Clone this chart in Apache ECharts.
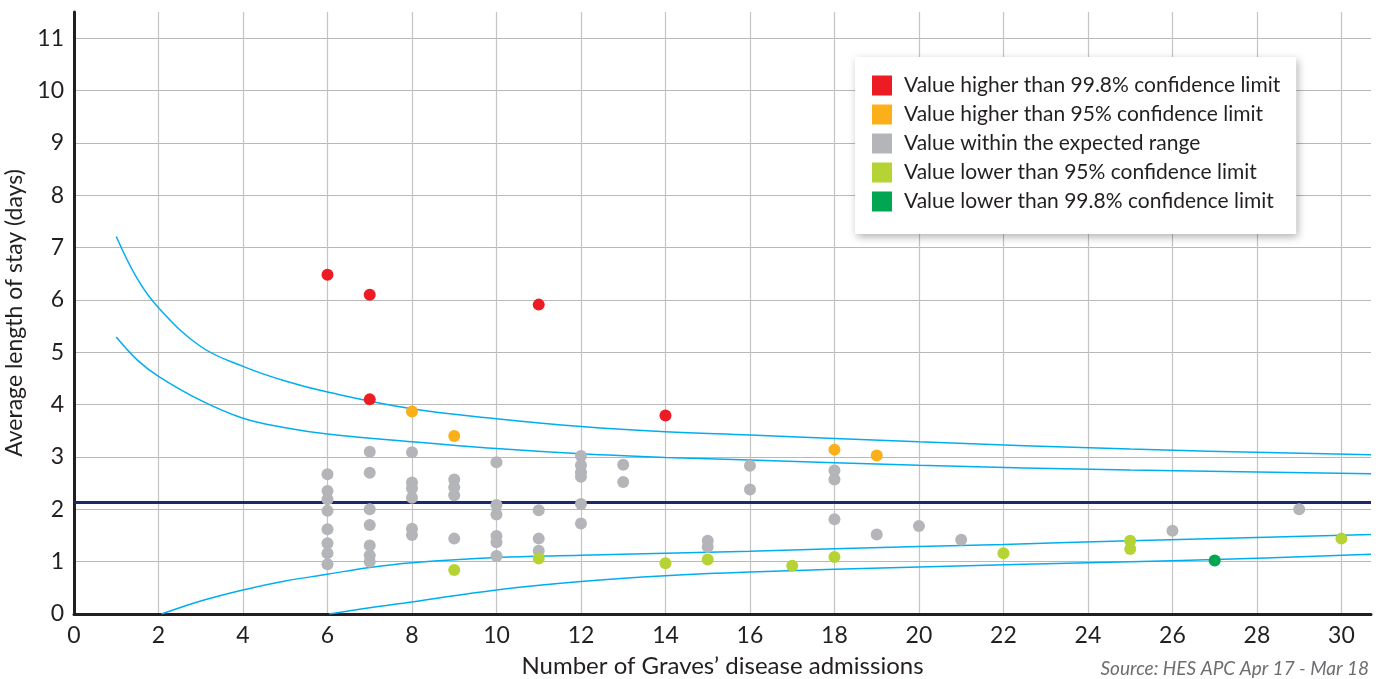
<!DOCTYPE html>
<html>
<head>
<meta charset="utf-8">
<script src="https://cdn.jsdelivr.net/npm/echarts@6/dist/echarts.min.js"></script>
<style>
  html, body { margin: 0; padding: 0; background: #ffffff; }
  #chart { width: 1387px; height: 679px; }
</style>
</head>
<body>
<div id="chart"></div>
<script>
// points: [admissions, average length of stay]
var redPoints = [[6, 6.48], [7, 6.10], [7, 4.10], [11, 5.91], [14, 3.79]];
var orangePoints = [[8, 3.87], [9, 3.40], [18, 3.14], [19, 3.03]];
var grayPoints = [
    [6, 2.67], [6, 2.35], [6, 2.19], [6, 1.97], [6, 1.62], [6, 1.35], [6, 1.16], [6, 0.95],
    [7, 3.10], [7, 2.70], [7, 2.00], [7, 1.70], [7, 1.31], [7, 1.12], [7, 1.00],
    [8, 3.09], [8, 2.51], [8, 2.40], [8, 2.22], [8, 1.63], [8, 1.51],
    [9, 2.57], [9, 2.42], [9, 2.27], [9, 1.44],
    [10, 2.90], [10, 2.08], [10, 1.90], [10, 1.49], [10, 1.37], [10, 1.11],
    [11, 1.98], [11, 1.44], [11, 1.21],
    [12, 3.02], [12, 2.84], [12, 2.71], [12, 2.62], [12, 2.10], [12, 1.73],
    [13, 2.85], [13, 2.52],
    [15, 1.40], [15, 1.28],
    [16, 2.83], [16, 2.38],
    [18, 2.74], [18, 2.57], [18, 1.81],
    [19, 1.52], [20, 1.68], [21, 1.42], [26, 1.59], [29, 2.00]
];
var limePoints = [[9, 0.84], [11, 1.06], [14, 0.97], [15, 1.04], [17, 0.92], [18, 1.09],
    [22, 1.16], [25, 1.40], [25, 1.24], [30, 1.44]];
var greenPoints = [[27, 1.02]];

// control limits
var upper998 = [[1, 7.21], [1.5, 6.40], [2, 5.85], [3, 5.11], [4, 4.73], [5, 4.45], [6, 4.24],
    [8, 3.92], [10, 3.73], [12, 3.58], [14, 3.48], [16, 3.42], [20, 3.29], [25, 3.15], [30.7, 3.04]];
var upper95 = [[1, 5.29], [1.5, 4.85], [2, 4.54], [3, 4.08], [4, 3.74], [5, 3.56], [6, 3.44],
    [8, 3.29], [10, 3.16], [12, 3.06], [14, 2.99], [16, 2.94], [20, 2.84], [25, 2.75], [30.7, 2.68]];
var lower95 = [[2.07, 0], [3, 0.25], [4, 0.46], [5, 0.63], [6, 0.76], [7, 0.89], [8, 0.98],
    [10, 1.08], [12, 1.12], [14, 1.16], [16, 1.20], [20, 1.29], [22, 1.33], [25, 1.40], [30.7, 1.52]];
var lower998 = [[6.04, 0], [7, 0.12], [8, 0.23], [10, 0.46], [12, 0.62], [14, 0.73], [16, 0.80],
    [20, 0.90], [25, 1.00], [27, 1.04], [30.7, 1.14]];
var meanValue = 2.13;

var legendNames = [
    'Value higher than 99.8% confidence limit',
    'Value higher than 95% confidence limit',
    'Value within the expected range',
    'Value lower than 95% confidence limit',
    'Value lower than 99.8% confidence limit'
];

var chart = echarts.init(document.getElementById('chart'));
var font = 'Lato, "DejaVu Sans", sans-serif';
var lineColor = '#00aeef';

function limitLine(data) {
    return {
        type: 'line',
        data: data,
        smooth: 0.4,
        symbol: 'none',
        lineStyle: { color: lineColor, width: 1.5 },
        z: 3,
        silent: true
    };
}

function dots(name, data, color) {
    return {
        name: name,
        type: 'scatter',
        data: data,
        symbolSize: 12,
        itemStyle: { color: color, opacity: 1 },
        z: 5
    };
}

var option = {
    backgroundColor: '#ffffff',
    textStyle: { fontFamily: font },
    animation: false,
    grid: { left: 74, right: 16, top: 12, bottom: 65, containLabel: false, outerBoundsMode: 'none' },
    legend: {
        orient: 'vertical',
        left: 855,
        top: 57,
        data: legendNames,
        icon: 'rect',
        itemWidth: 20,
        itemHeight: 20,
        itemGap: 8,
        padding: [18, 16, 22, 17],
        backgroundColor: '#ffffff',
        shadowBlur: 8,
        shadowColor: 'rgba(0,0,0,0.3)',
        shadowOffsetX: 2,
        shadowOffsetY: 3,
        textStyle: { fontSize: 21, color: '#231f20', fontFamily: font, padding: [0, 0, 0, 7] }
    },
    xAxis: {
        type: 'value',
        min: 0,
        max: 30.7,
        interval: 2,
        name: 'Number of Graves’ disease admissions',
        nameLocation: 'middle',
        nameGap: 40,
        nameTextStyle: { fontSize: 24, color: '#231f20', fontFamily: font },
        axisLine: { show: true, onZero: false, lineStyle: { color: '#231f20', width: 3 } },
        axisTick: { show: false },
        axisLabel: { fontSize: 23, color: '#231f20', margin: 10, showMaxLabel: false },
        splitLine: { show: true, showMaxLine: false, lineStyle: { color: '#c4c4c4', width: 1.2 } }
    },
    yAxis: {
        type: 'value',
        min: 0,
        max: 11.5,
        interval: 1,
        name: 'Average length of stay (days)',
        nameLocation: 'middle',
        nameGap: 47,
        nameTextStyle: { fontSize: 23, color: '#231f20', fontFamily: font },
        axisLine: { show: true, onZero: false, lineStyle: { color: '#231f20', width: 3 } },
        axisTick: { show: false },
        axisLabel: { fontSize: 23, color: '#231f20', margin: 10, showMaxLabel: false },
        splitLine: { show: true, showMaxLine: false, lineStyle: { color: '#b8b8b8', width: 1.2 } }
    },
    graphic: [{
        type: 'text',
        right: 18,
        top: 659,
        style: {
            text: 'Source: HES APC Apr 17 - Mar 18',
            fontSize: 19,
            fontStyle: 'italic',
            fontFamily: font,
            fill: '#6d6e71'
        }
    }],
    series: [
        {
            type: 'line',
            data: [[0, meanValue], [30.7, meanValue]],
            symbol: 'none',
            lineStyle: { color: '#1b2a6e', width: 3 },
            z: 2,
            silent: true
        },
        limitLine(upper998),
        limitLine(upper95),
        limitLine(lower95),
        limitLine(lower998),
        dots(legendNames[0], redPoints, '#ed1c24'),
        dots(legendNames[1], orangePoints, '#fbb01a'),
        dots(legendNames[2], grayPoints, '#b4b5b8'),
        dots(legendNames[3], limePoints, '#b5d334'),
        dots(legendNames[4], greenPoints, '#00a651')
    ]
};

chart.setOption(option);
</script>
</body>
</html>
